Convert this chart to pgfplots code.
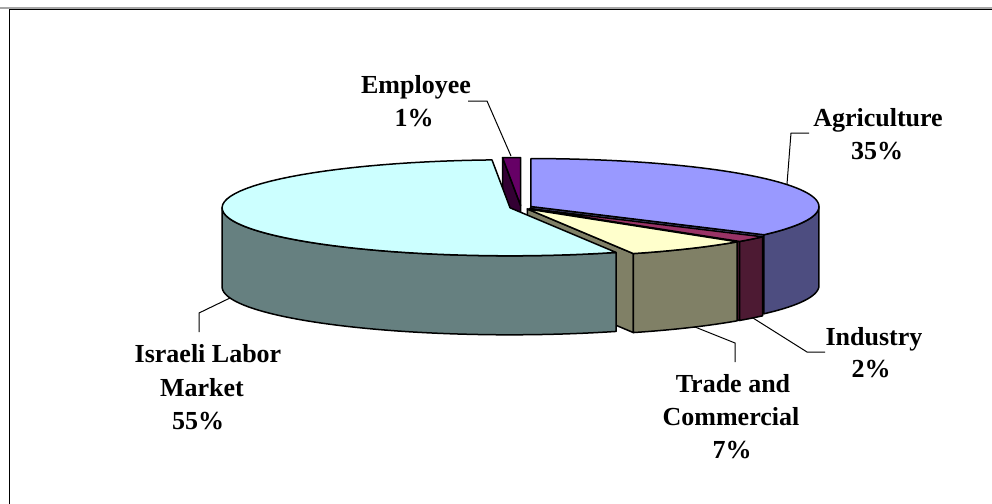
\documentclass[border=0pt]{standalone}
\usepackage{pgfplots}
\pgfplotsset{compat=1.18}
\usepackage{pgfplotstable}
\usepackage{fontspec}
\setmainfont{Liberation Serif}

\definecolor{agriT}{HTML}{9999FF}
\definecolor{agriS}{HTML}{4D4D80}
\definecolor{indT}{HTML}{993366}
\definecolor{indS}{HTML}{4D1A33}
\definecolor{traT}{HTML}{FFFFCC}
\definecolor{traS}{HTML}{808066}
\definecolor{isrT}{HTML}{CCFFFF}
\definecolor{isrS}{HTML}{668080}
\definecolor{empT}{HTML}{660066}
\definecolor{empS}{HTML}{330033}

\pgfplotstableread{
label share
Agriculture 35
Industry 2
Trade 7
Israeli 55
Employee 1
}\shares

% geometry in image pixels
\def\PX{521}\def\PY{207.4}\def\RX{288}\def\RY{48}\def\D{79}\def\EX{11.2}

\newcommand\mkslice[3]{% #1 prefix, #2 cumulative start, #3 value
  \pgfmathsetmacro\tHi{90-360/\tot*(#2)}%
  \pgfmathsetmacro\tLo{90-360/\tot*((#2)+(#3))}%
  \pgfmathsetmacro\tMid{(\tHi+\tLo)/2}%
  \pgfmathsetmacro\tCx{\PX+\EX*cos(\tMid)}%
  \pgfmathsetmacro\tCy{\PY-\EX*\RY/\RX*sin(\tMid)}%
  \pgfmathsetmacro\tCyD{\tCy+\D}%
  \pgfmathsetmacro\tLoX{\tCx+\RX*cos(\tLo)}%
  \pgfmathsetmacro\tLoY{\tCy-\RY*sin(\tLo)}%
  \pgfmathsetmacro\tLoYD{\tLoY+\D}%
  \pgfmathsetmacro\tHiX{\tCx+\RX*cos(\tHi)}%
  \pgfmathsetmacro\tHiY{\tCy-\RY*sin(\tHi)}%
  \pgfmathsetmacro\tHiYD{\tHiY+\D}%
  \pgfmathsetmacro\tLoN{\tLo+(\tHi-\tLo)/60}%
  \expandafter\let\csname#1Hi\endcsname\tHi
  \expandafter\let\csname#1Lo\endcsname\tLo
  \expandafter\let\csname#1Cx\endcsname\tCx
  \expandafter\let\csname#1Cy\endcsname\tCy
  \expandafter\let\csname#1CyD\endcsname\tCyD
  \expandafter\let\csname#1LoX\endcsname\tLoX
  \expandafter\let\csname#1LoY\endcsname\tLoY
  \expandafter\let\csname#1LoYD\endcsname\tLoYD
  \expandafter\let\csname#1HiX\endcsname\tHiX
  \expandafter\let\csname#1HiY\endcsname\tHiY
  \expandafter\let\csname#1HiYD\endcsname\tHiYD
  \expandafter\edef\csname#1Top\endcsname{\tLo,\tLoN,...,\tHi,\tHi,3000}%
}
\newcommand\mkside[3]{% #1 prefix, #2 from angle, #3 to angle
  \pgfmathsetmacro\sA{#2}%
  \pgfmathsetmacro\sAn{#2+((#3)-(#2))/50}%
  \pgfmathsetmacro\sB{#3}%
  \pgfmathsetmacro\sBB{#3+1080}%
  \pgfmathsetmacro\sBBn{#3+1080-((#3)-(#2))/50}%
  \pgfmathsetmacro\sAA{#2+1080}%
  \expandafter\edef\csname#1Side\endcsname{\sA,\sAn,...,\sB,\sB,\sBB,\sBBn,...,\sAA,\sAA}%
}

\pgfplotstablegetelem{0}{share}\of\shares \let\vAg\pgfplotsretval
\pgfplotstablegetelem{1}{share}\of\shares \let\vIn\pgfplotsretval
\pgfplotstablegetelem{2}{share}\of\shares \let\vTr\pgfplotsretval
\pgfplotstablegetelem{3}{share}\of\shares \let\vIs\pgfplotsretval
\pgfplotstablegetelem{4}{share}\of\shares \let\vEm\pgfplotsretval
\pgfmathsetmacro\tot{\vAg+\vIn+\vTr+\vIs+\vEm}
\mkslice{Ag}{0}{\vAg}
\pgfmathsetmacro\cIn{\vAg}\mkslice{In}{\cIn}{\vIn}
\pgfmathsetmacro\cTr{\vAg+\vIn}\mkslice{Tr}{\cTr}{\vTr}
\pgfmathsetmacro\cIs{\vAg+\vIn+\vTr}\mkslice{Is}{\cIs}{\vIs}
\pgfmathsetmacro\cEm{\vAg+\vIn+\vTr+\vIs}\mkslice{Em}{\cEm}{\vEm}
\mkside{Ag}{\AgLo}{0}
\mkside{In}{\InLo}{\InHi}
\mkside{Tr}{\TrLo}{\TrHi}
\mkside{Is}{-180}{\IsHi}

\begin{document}
\begin{tikzpicture}[
  face/.style={draw=black, line width=0.75pt, line join=round},
  lead/.style={draw=black, line width=0.5pt, mark=none},
  lbl/.style={anchor=base, font=\fontsize{13}{16}\selectfont\bfseries, inner sep=0pt}]
\begin{axis}[name=ax, width=496pt, height=252pt, scale only axis,
  xmin=0, xmax=992, ymin=0, ymax=504, y dir=reverse, hide axis, clip=false]
% frame
\addplot[draw=gray!70, line width=0.6pt] coordinates {(0,8) (1000,8)};
\addplot[draw=black, line width=0.6pt] coordinates {(9.5,520) (9.5,9.5) (1000,9.5)};
% Employee
\addplot[face, fill=empS] coordinates {(\EmCx,\EmCy) (\EmHiX,\EmHiY) (\EmHiX,\EmHiYD) (\EmCx,\EmCyD)} -- cycle;
\addplot[face, fill=empT, variable=\t, samples at/.expanded=\EmTop] ({\EmCx+(\t<2000)*\RX*cos(\t)}, {\EmCy-(\t<2000)*\RY*sin(\t)}) -- cycle;
% Agriculture
\addplot[face, fill=agriS] coordinates {(\AgCx,\AgCy) (\AgLoX,\AgLoY) (\AgLoX,\AgLoYD) (\AgCx,\AgCyD)} -- cycle;
\addplot[face, fill=agriS, variable=\t, samples at/.expanded=\AgSide] ({\AgCx+\RX*cos(\t)}, {\AgCy-\RY*sin(\t)+\D*(\t>720)}) -- cycle;
\addplot[face, fill=agriT, variable=\t, samples at/.expanded=\AgTop] ({\AgCx+(\t<2000)*\RX*cos(\t)}, {\AgCy-(\t<2000)*\RY*sin(\t)}) -- cycle;
% Industry
\addplot[face, fill=indS] coordinates {(\InCx,\InCy) (\InLoX,\InLoY) (\InLoX,\InLoYD) (\InCx,\InCyD)} -- cycle;
\addplot[face, fill=indS, variable=\t, samples at/.expanded=\InSide] ({\InCx+\RX*cos(\t)}, {\InCy-\RY*sin(\t)+\D*(\t>720)}) -- cycle;
\addplot[face, fill=indT, variable=\t, samples at/.expanded=\InTop] ({\InCx+(\t<2000)*\RX*cos(\t)}, {\InCy-(\t<2000)*\RY*sin(\t)}) -- cycle;
% Trade
\addplot[face, fill=traS] coordinates {(\TrCx,\TrCy) (\TrLoX,\TrLoY) (\TrLoX,\TrLoYD) (\TrCx,\TrCyD)} -- cycle;
\addplot[face, fill=traS, variable=\t, samples at/.expanded=\TrSide] ({\TrCx+\RX*cos(\t)}, {\TrCy-\RY*sin(\t)+\D*(\t>720)}) -- cycle;
\addplot[face, fill=traT, variable=\t, samples at/.expanded=\TrTop] ({\TrCx+(\t<2000)*\RX*cos(\t)}, {\TrCy-(\t<2000)*\RY*sin(\t)}) -- cycle;
% Israeli
\addplot[face, fill=isrS, variable=\t, samples at/.expanded=\IsSide] ({\IsCx+\RX*cos(\t)}, {\IsCy-\RY*sin(\t)+\D*(\t>720)}) -- cycle;
\addplot[face, fill=isrT, variable=\t, samples at/.expanded=\IsTop] ({\IsCx+(\t<2000)*\RX*cos(\t)}, {\IsCy-(\t<2000)*\RY*sin(\t)}) -- cycle;
% leader lines
\addplot[lead] coordinates {(468,101) (487,101) (511,156)};
\addplot[lead] coordinates {(809,133) (791,133) (787,184)};
\addplot[lead] coordinates {(753,318) (807,352) (825,352)};
\addplot[lead] coordinates {(695,327) (735,343) (735,362)};
\addplot[lead] coordinates {(230,298) (199,313) (199,332)};
% labels
\node[lbl] at (axis cs:416,93) {Employee};
\node[lbl] at (axis cs:414,126) {1\%};
\node[lbl] at (axis cs:878,126) {Agriculture};
\node[lbl] at (axis cs:877,159) {35\%};
\node[lbl] at (axis cs:874,345) {Industry};
\node[lbl] at (axis cs:871,377) {2\%};
\node[lbl] at (axis cs:733,392) {Trade and};
\node[lbl] at (axis cs:731,425) {Commercial};
\node[lbl] at (axis cs:732,458) {7\%};
\node[lbl] at (axis cs:208,362) {Israeli Labor};
\node[lbl] at (axis cs:202,396) {Market};
\node[lbl] at (axis cs:198,429) {55\%};
\end{axis}
\pgfresetboundingbox
\useasboundingbox (ax.south west) rectangle (ax.north east);
\end{tikzpicture}
\end{document}
